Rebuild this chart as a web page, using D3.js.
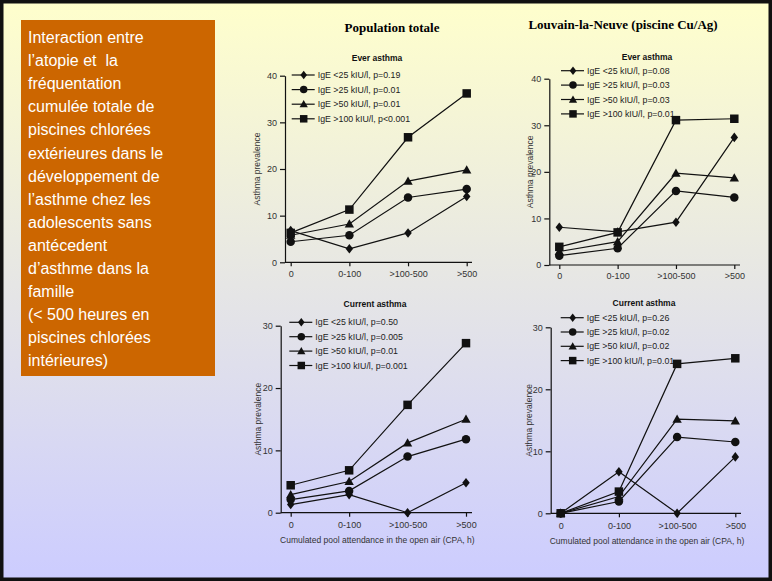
<!DOCTYPE html>
<html>
<head>
<meta charset="utf-8">
<script src="https://cdn.jsdelivr.net/npm/d3@7"></script>
<style>
    html, body { margin: 0; padding: 0; background: #fff; }
    #slide { width: 772px; height: 581px; }
    text { font-family: Arial, "Liberation Sans", sans-serif; }
</style>
</head>
<body>
<div id="slide"></div>
<script>
// Data
const categories = ["0", "0-100", ">100-500", ">500"];

// order of rows: IgE <25, >25, >50, >100 kIU/l
const everTotal = [
    [6.8, 2.9, 6.3, 14.1],
    [4.4, 5.8, 13.9, 15.7],
    [5.8, 8.2, 17.4, 19.8],
    [6.3, 11.3, 26.8, 36.2]
];
const everLLN = [
    [8.1, 7.1, 9.2, 27.4],
    [2.0, 3.6, 15.9, 14.5],
    [2.9, 5.0, 19.7, 18.7],
    [3.9, 7.0, 31.1, 31.4]
];
const currentTotal = [
    [1.3, 2.9, 0, 4.8],
    [2.1, 3.5, 9.0, 11.8],
    [2.9, 5.0, 11.2, 15.0],
    [4.4, 6.8, 17.3, 27.2]
];
const currentLLN = [
    [0, 6.7, 0, 9.1],
    [0, 1.9, 12.3, 11.5],
    [0, 2.7, 15.2, 14.9],
    [0, 3.5, 24.1, 25.0]
];

const legendEverTotal = ["IgE <25 kIU/l, p=0.19", "IgE >25 kIU/l, p=0.01", "IgE >50 kIU/l, p=0.01", "IgE >100 kIU/l, p<0.001"];
const legendEverLLN = ["IgE <25 kIU/l, p=0.08", "IgE >25 kIU/l, p=0.03", "IgE >50 kIU/l, p=0.03", "IgE >100 kIU/l, p=0.01"];
const legendCurrentTotal = ["IgE <25 kIU/l, p=0.50", "IgE >25 kIU/l, p=0.005", "IgE >50 kIU/l, p=0.01", "IgE >100 kIU/l, p=0.001"];
const legendCurrentLLN = ["IgE <25 kIU/l, p=0.26", "IgE >25 kIU/l, p=0.02", "IgE >50 kIU/l, p=0.02", "IgE >100 kIU/l, p=0.01"];

const ticksEver = [0, 10, 20, 30, 40];
const ticksCurrent = [0, 10, 20, 30];

const sideText = [
    "Interaction entre",
    "l\u2019atopie et  la",
    "fr\u00e9quentation",
    "cumul\u00e9e totale de",
    "piscines chlor\u00e9es",
    "ext\u00e9rieures dans le",
    "d\u00e9veloppement de",
    "l\u2019asthme chez les",
    "adolescents sans",
    "ant\u00e9cedent",
    "d\u2019asthme dans la",
    "famille",
    "(< 500 heures en",
    "piscines chlor\u00e9es",
    "int\u00e9rieures)"
];

document.addEventListener('DOMContentLoaded', function() {
    const W = 772, H = 581;

    const svg = d3.select("#slide")
        .append("svg")
        .attr("width", W)
        .attr("height", H);

    // Background gradient (yellow -> lavender)
    const defs = svg.append("defs");
    const grad = defs.append("linearGradient")
        .attr("id", "bg")
        .attr("x1", 0).attr("y1", 0)
        .attr("x2", 0).attr("y2", 1);
    grad.append("stop").attr("offset", "0%").attr("stop-color", "#FFFFCC");
    grad.append("stop").attr("offset", "100%").attr("stop-color", "#CCCCFF");

    svg.append("rect")
        .attr("width", W)
        .attr("height", H)
        .attr("fill", "url(#bg)");

    // Slide frame
    svg.append("rect")
        .attr("x", 1.75)
        .attr("y", 1.75)
        .attr("width", W - 3.5)
        .attr("height", H - 3.5)
        .attr("fill", "none")
        .attr("stroke", "#111")
        .attr("stroke-width", 3.5);

    // Orange text box
    svg.append("rect")
        .attr("x", 21)
        .attr("y", 20)
        .attr("width", 194)
        .attr("height", 356)
        .attr("fill", "#CC6600");

    svg.append("g")
        .selectAll("text")
        .data(sideText)
        .enter()
        .append("text")
        .attr("x", 28)
        .attr("y", (d, i) => 43 + i * 23.1)
        .attr("fill", "#fff")
        .attr("xml:space", "preserve")
        .style("font-size", "16px")
        .text(d => d);

    // Column titles
    svg.append("text")
        .attr("x", 392)
        .attr("y", 32)
        .attr("text-anchor", "middle")
        .style("font-family", "'Liberation Serif', 'Times New Roman', serif")
        .style("font-size", "13px")
        .style("font-weight", "bold")
        .text("Population totale");

    svg.append("text")
        .attr("x", 623)
        .attr("y", 29)
        .attr("text-anchor", "middle")
        .style("font-family", "'Liberation Serif', 'Times New Roman', serif")
        .style("font-size", "13px")
        .style("font-weight", "bold")
        .text("Louvain-la-Neuve (piscine Cu/Ag)");

    // Marker shapes (diamond, circle, triangle, square)
    const diamond = { draw(ctx, s) { ctx.moveTo(0, -s * 0.56); ctx.lineTo(s * 0.44, 0); ctx.lineTo(0, s * 0.56); ctx.lineTo(-s * 0.44, 0); ctx.closePath(); } };
    const circle = { draw(ctx, s) { ctx.moveTo(s * 0.5, 0); ctx.arc(0, 0, s * 0.5, 0, 2 * Math.PI); } };
    const triangle = { draw(ctx, s) { ctx.moveTo(0, -s * 0.55); ctx.lineTo(s * 0.55, s * 0.42); ctx.lineTo(-s * 0.55, s * 0.42); ctx.closePath(); } };
    const square = { draw(ctx, s) { ctx.rect(-s / 2, -s / 2, s, s); } };
    const shapes = [diamond, circle, triangle, square];

    const panels = [
        { title: "Ever asthma", values: everTotal, legend: legendEverTotal, ticks: ticksEver,
          axisX: 285, x0: 290.7, x3: 466.7, xEnd: 472, yZero: 262.3, yTop: 75.7,
          titleX: 377, titleY: 61, legX: 291.7, legY: 75, legStep: 14.6,
          yLabX: 260, xTickY: 277, xTitle: false },
        { title: "Ever asthma", values: everLLN, legend: legendEverLLN, ticks: ticksEver,
          axisX: 549.3, x0: 559.3, x3: 734.3, xEnd: 740, yZero: 265, yTop: 78.7,
          titleX: 647, titleY: 60, legX: 561, legY: 70.7, legStep: 14.4,
          yLabX: 533, xTickY: 279, xTitle: false },
        { title: "Current asthma", values: currentTotal, legend: legendCurrentTotal, ticks: ticksCurrent,
          axisX: 280.7, x0: 290.7, x3: 466, xEnd: 472, yZero: 512.7, yTop: 325.7,
          titleX: 375, titleY: 307, legX: 289.3, legY: 322.3, legStep: 14.4,
          yLabX: 261, xTickY: 528, xTitle: true },
        { title: "Current asthma", values: currentLLN, legend: legendCurrentLLN, ticks: ticksCurrent,
          axisX: 550.7, x0: 560.7, x3: 735.3, xEnd: 741, yZero: 513.3, yTop: 327.3,
          titleX: 644, titleY: 306, legX: 560.7, legY: 317.7, legStep: 14.3,
          yLabX: 532, xTickY: 528.5, xTitle: true }
    ];

    panels.forEach(createPanel);

    function createPanel(p) {
        const g = svg.append("g");
        const ymax = p.ticks[p.ticks.length - 1];

        // Scales
        const x = d3.scalePoint()
            .domain(categories)
            .range([p.x0, p.x3]);

        const y = d3.scaleLinear()
            .domain([0, ymax])
            .range([p.yZero, p.yTop]);

        // Y axis
        const yAxis = g.append("g")
            .attr("transform", `translate(${p.axisX},0)`)
            .call(d3.axisLeft(y).tickValues(p.ticks).tickSize(5).tickSizeOuter(0).tickPadding(3));
        yAxis.select(".domain").attr("stroke", "#111").attr("stroke-width", 1.2);
        yAxis.selectAll(".tick line").attr("stroke", "#111").attr("stroke-width", 1.2);
        yAxis.selectAll(".tick text")
            .attr("fill", "#333")
            .style("font-family", "Arial, 'Liberation Sans', sans-serif")
            .style("font-size", "9px");

        // X axis
        const xAxis = g.append("g")
            .attr("transform", `translate(0,${p.yZero})`)
            .call(d3.axisBottom(x).tickSize(4).tickSizeOuter(0).tickPadding(4));
        xAxis.select(".domain")
            .attr("d", `M${p.axisX},0H${p.xEnd}`)
            .attr("stroke", "#111")
            .attr("stroke-width", 1.2);
        xAxis.selectAll(".tick line").attr("stroke", "#111").attr("stroke-width", 1.2);
        xAxis.selectAll(".tick text")
            .attr("y", null)
            .attr("dy", null)
            .attr("transform", `translate(0,${p.xTickY - p.yZero})`)
            .attr("fill", "#333")
            .style("font-family", "Arial, 'Liberation Sans', sans-serif")
            .style("font-size", "9px");

        // Y axis label
        g.append("text")
            .attr("transform", `translate(${p.yLabX},${(p.yZero + p.yTop) / 2}) rotate(-90)`)
            .attr("text-anchor", "middle")
            .attr("fill", "#333")
            .style("font-size", "8.5px")
            .text("Asthma prevalence");

        // X axis label
        if (p.xTitle) {
            g.append("text")
                .attr("x", (p.x0 + p.x3) / 2 - 1)
                .attr("y", p.xTickY + 15)
                .attr("text-anchor", "middle")
                .attr("fill", "#333")
                .style("font-size", "8.5px")
                .text("Cumulated pool attendance in the open air (CPA, h)");
        }

        // Panel subtitle
        g.append("text")
            .attr("x", p.titleX)
            .attr("y", p.titleY)
            .attr("text-anchor", "middle")
            .attr("fill", "#111")
            .style("font-size", "8.5px")
            .style("font-weight", "bold")
            .text(p.title);

        // Legend
        const legend = g.append("g")
            .attr("transform", `translate(${p.legX},${p.legY})`);

        p.legend.forEach((label, i) => {
            const row = legend.append("g")
                .attr("transform", `translate(0,${i * p.legStep})`);

            row.append("line")
                .attr("x1", 0)
                .attr("x2", 23)
                .attr("stroke", "#111")
                .attr("stroke-width", 1.2);

            row.append("path")
                .attr("transform", "translate(12,0)")
                .attr("d", d3.symbol().type(shapes[i]).size(7.5)())
                .attr("fill", "#111");

            row.append("text")
                .attr("x", 26)
                .attr("y", 3)
                .attr("fill", "#222")
                .style("font-size", "8.8px")
                .text(label);
        });

        // Series lines and markers
        const line = d3.line()
            .x((d, i) => x(categories[i]))
            .y(d => y(d));

        p.values.forEach(series => {
            g.append("path")
                .datum(series)
                .attr("d", line)
                .attr("fill", "none")
                .attr("stroke", "#111")
                .attr("stroke-width", 1.2);
        });

        p.values.forEach((series, s) => {
            g.selectAll(null)
                .data(series)
                .enter()
                .append("path")
                .attr("transform", (d, i) => `translate(${x(categories[i])},${y(d)})`)
                .attr("d", d3.symbol().type(shapes[s]).size(8.5)())
                .attr("fill", "#111");
        });
    }
});
</script>
</body>
</html>
